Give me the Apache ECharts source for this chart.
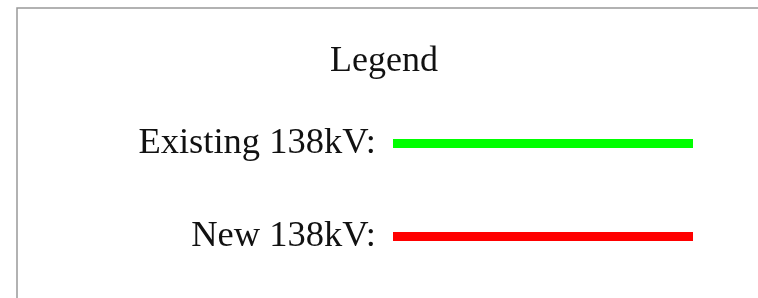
<!DOCTYPE html>
<html>
<head>
<meta charset="utf-8">
<script src="https://cdn.jsdelivr.net/npm/echarts@6/dist/echarts.min.js"></script>
<style>
  html, body { margin: 0; padding: 0; background: #fff; }
  #chart { width: 758px; height: 298px; }
</style>
</head>
<body>
<div id="chart"></div>
<script>
// legend entries
var lineNames = ['Existing 138kV:', 'New 138kV:'];
var lineColors = ['#00ff00', '#ff0000'];
var lineSpan = [0, 1];   // each swatch goes from start to end of the x range

var chart = echarts.init(document.getElementById('chart'));

var series = lineNames.map(function (name, i) {
    return {
        name: name,
        type: 'line',
        symbol: 'none',
        silent: true,
        lineStyle: {color: lineColors[i], width: 9, cap: 'butt'},
        data: lineSpan.map(function (x) { return [x, name]; })
    };
});

var option = {
    backgroundColor: '#fff',
    animation: false,
    title: {
        text: 'Legend',
        left: 330, top: 44, padding: 0,
        textStyle: {fontFamily: 'Liberation Serif', fontSize: 36, fontWeight: 'normal', color: '#111'}
    },
    grid: {left: 393, right: 65, top: 97, height: 186},
    xAxis: {type: 'value', min: 0, max: 1, show: false},
    yAxis: {
        type: 'category',
        inverse: true,
        data: lineNames,
        axisLine: {show: false},
        axisTick: {show: false},
        splitLine: {show: false},
        axisLabel: {margin: 17, fontFamily: 'Liberation Serif', fontSize: 36.5, color: '#111'}
    },
    graphic: [{
        type: 'rect',
        shape: {x: 17, y: 8, width: 800, height: 400},
        style: {fill: 'none', stroke: '#999', lineWidth: 1.5},
        silent: true
    }],
    series: series
};
chart.setOption(option);
</script>
</body>
</html>
